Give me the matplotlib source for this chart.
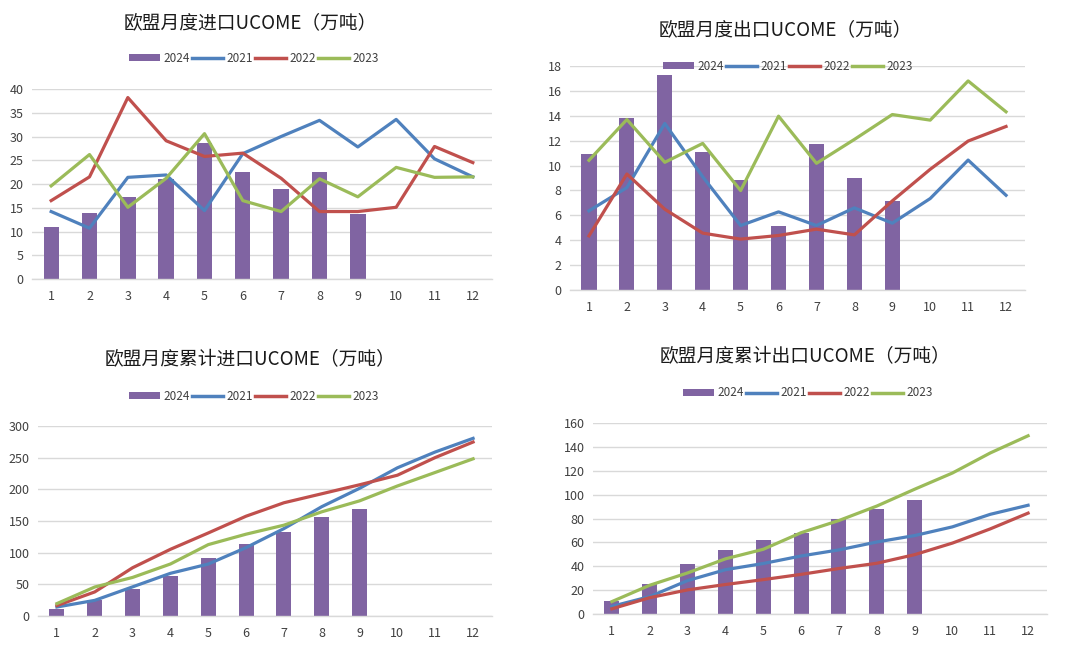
import matplotlib
matplotlib.use("Agg")
import matplotlib.pyplot as plt
from matplotlib.patches import Patch
from matplotlib.lines import Line2D

plt.rcParams['font.family'] = ['Noto Sans CJK SC', 'DejaVu Sans']

months = [1, 2, 3, 4, 5, 6, 7, 8, 9, 10, 11, 12]
series_labels = ["2024", "2021", "2022", "2023"]

# Monthly imports (万吨)
imp_2024 = [10.9, 13.9, 17.2, 21.0, 28.6, 22.5, 19.0, 22.5, 13.7]
imp_2021 = [14.2, 10.7, 21.4, 21.9, 14.4, 26.4, 30.0, 33.4, 27.8, 33.6, 25.3, 21.5]
imp_2022 = [16.5, 21.5, 38.2, 29.1, 25.8, 26.5, 21.2, 14.2, 14.2, 15.1, 27.9, 24.5]
imp_2023 = [19.6, 26.2, 15.1, 21.2, 30.6, 16.5, 14.2, 21.1, 17.3, 23.5, 21.4, 21.5]

# Monthly exports (万吨)
exp_2024 = [10.95, 13.86, 17.28, 11.11, 8.84, 5.18, 11.73, 9.0, 7.16]
exp_2021 = [6.36, 8.23, 13.38, 9.1, 5.18, 6.28, 5.18, 6.6, 5.37, 7.35, 10.44, 7.61]
exp_2022 = [4.35, 9.32, 6.49, 4.57, 4.09, 4.38, 4.89, 4.43, 7.16, 9.7, 11.97, 13.14]
exp_2023 = [10.42, 13.7, 10.26, 11.78, 7.99, 13.97, 10.18, 12.1, 14.1, 13.65, 16.8, 14.32]

# Cumulative imports (万吨)
cimp_2024 = [10.5, 25.3, 42.0, 63.7, 91.6, 114.0, 132.6, 155.8, 169.0]
cimp_2021 = [14.2, 24.7, 46.0, 67.4, 82.0, 108.0, 138.0, 172.6, 201.6, 234.0, 259.0, 280.5]
cimp_2022 = [16.5, 38.0, 76.2, 105.3, 131.1, 157.6, 178.8, 193.0, 207.2, 222.3, 250.2, 274.7]
cimp_2023 = [19.6, 45.8, 60.9, 82.1, 112.7, 129.2, 143.4, 164.5, 181.8, 205.3, 226.7, 248.2]

# Cumulative exports (万吨)
cexp_2024 = [11.2, 24.9, 42.2, 53.4, 62.4, 68.0, 79.4, 87.8, 95.1]
cexp_2021 = [6.4, 14.6, 28.0, 37.1, 42.3, 48.6, 53.7, 60.3, 65.7, 73.0, 83.5, 91.1]
cexp_2022 = [4.35, 13.7, 20.2, 24.7, 28.8, 33.2, 38.1, 42.5, 49.7, 59.4, 71.3, 84.5]
cexp_2023 = [10.4, 24.1, 34.4, 46.2, 54.2, 68.1, 78.3, 90.4, 104.5, 118.1, 134.9, 149.3]

titles = ["欧盟月度进口UCOME（万吨）", "欧盟月度出口UCOME（万吨）",
          "欧盟月度累计进口UCOME（万吨）", "欧盟月度累计出口UCOME（万吨）"]

C_BAR = "#8064A2"
C_21 = "#4F81BD"
C_22 = "#C0504D"
C_23 = "#9BBB59"
GRID = "#D9D9D9"
TXT = "#404040"

W, H = 1080, 652
fig = plt.figure(figsize=(W / 100, H / 100), dpi=100)
fig.patch.set_facecolor("white")

panels = [
    dict(l=32, r=492, y0=279, yt=89, ymax=40, step=5, tx=250, ty=23, lx=254, ly=58,
         data=(imp_2024, imp_2021, imp_2022, imp_2023)),
    dict(l=570, r=1025, y0=290, yt=66, ymax=18, step=2, tx=785, ty=30, lx=788, ly=66,
         data=(exp_2024, exp_2021, exp_2022, exp_2023)),
    dict(l=38, r=492, y0=616, yt=426, ymax=300, step=50, tx=250, ty=360, lx=254, ly=396,
         data=(cimp_2024, cimp_2021, cimp_2022, cimp_2023)),
    dict(l=593, r=1047, y0=614, yt=423, ymax=160, step=20, tx=805, ty=357, lx=808, ly=393,
         data=(cexp_2024, cexp_2021, cexp_2022, cexp_2023)),
]

for p, title in zip(panels, titles):
    ax = fig.add_axes([p["l"] / W, 1 - p["y0"] / H, (p["r"] - p["l"]) / W, (p["y0"] - p["yt"]) / H])
    b, s21, s22, s23 = p["data"]
    ax.bar(months[:len(b)], b, width=0.4, color=C_BAR, zorder=2)
    ax.plot(months, s21, color=C_21, lw=2.3, zorder=3, solid_joinstyle="round")
    ax.plot(months, s22, color=C_22, lw=2.3, zorder=3, solid_joinstyle="round")
    ax.plot(months, s23, color=C_23, lw=2.3, zorder=3, solid_joinstyle="round")
    ax.set_xlim(0.5, 12.5)
    ax.set_ylim(0, p["ymax"])
    ax.set_yticks(list(range(0, p["ymax"] + 1, p["step"])))
    ax.set_xticks(months)
    ax.grid(axis="y", color=GRID, lw=1.0, zorder=0)
    ax.set_axisbelow(True)
    for sp in ["top", "right", "left"]:
        ax.spines[sp].set_visible(False)
    ax.spines["bottom"].set_color(GRID)
    ax.spines["bottom"].set_linewidth(1.0)
    ax.tick_params(axis="both", length=0, labelsize=9, labelcolor=TXT)
    ax.tick_params(axis="x", pad=8)
    ax.tick_params(axis="y", pad=6)

    fig.text(p["tx"] / W, 1 - p["ty"] / H, title, ha="center", va="center",
             fontsize=13.5, color="#1a1a1a")
    handles = [Patch(facecolor=C_BAR, edgecolor="none"),
               Line2D([], [], color=C_21, lw=2.5),
               Line2D([], [], color=C_22, lw=2.5),
               Line2D([], [], color=C_23, lw=2.5)]
    fig.legend(handles, series_labels, loc="center", bbox_to_anchor=(p["lx"] / W, 1 - p["ly"] / H),
               ncol=4, frameon=False, fontsize=8.5, handlelength=2.6, handleheight=0.6,
               handletextpad=0.3, columnspacing=0.2, labelcolor=TXT)

fig.savefig("out.png", dpi=100)
